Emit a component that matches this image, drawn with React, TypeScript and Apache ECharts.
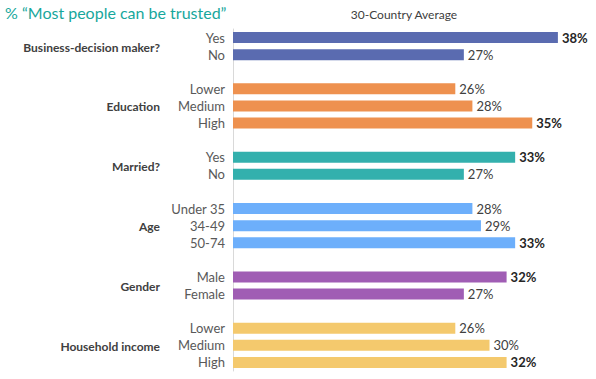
import React, { useEffect, useRef } from "react";
import * as echarts from "echarts";

const groups = ["Business-decision maker?", "Education", "Married?", "Age", "Gender", "Household income"];
const subLabels = [
  ["Yes", "No"],
  ["Lower", "Medium", "High"],
  ["Yes", "No"],
  ["Under 35", "34-49", "50-74"],
  ["Male", "Female"],
  ["Lower", "Medium", "High"],
];
const values = [
  [38, 27],
  [26, 28, 35],
  [33, 27],
  [28, 29, 33],
  [32, 27],
  [26, 30, 32],
];
const groupColors = ["#5A6BB0", "#EE914F", "#33B0AD", "#6DAFFB", "#A05DB4", "#F4C96D"];

const FONT = "Lato";

export default function App() {
  const ref = useRef<HTMLDivElement>(null);
  useEffect(() => {
    if (!ref.current) return;
    const chart = echarts.init(ref.current, undefined, { renderer: "svg" });
    const keys: string[] = [];
    const labelMap: Record<string, string> = {};
    const data: any[] = [];
    groups.forEach((g, gi) => {
      const max = Math.max(...values[gi]);
      subLabels[gi].forEach((s, si) => {
        const k = `${gi}-${si}`;
        keys.push(k);
        labelMap[k] = s;
        const v = values[gi][si];
        data.push({
          value: v,
          itemStyle: { color: groupColors[gi] },
          label: { fontWeight: v === max ? "bold" : "normal", color: v === max ? "#262626" : "#404040" },
        });
      });
      if (gi < groups.length - 1) {
        const k = `gap-${gi}`;
        keys.push(k);
        labelMap[k] = "";
        data.push("-");
      }
    });
    chart.setOption({
      animation: false,
      grid: { left: 233, right: 21, top: 29, bottom: 8, containLabel: false },
      xAxis: { type: "value", min: 0, max: 40, show: false, splitLine: { show: false } },
      yAxis: {
        type: "category",
        inverse: true,
        data: keys,
        axisTick: { show: false },
        axisLine: { lineStyle: { color: "#D9D9D9", width: 1 } },
        axisLabel: {
          interval: 0,
          margin: 8,
          color: "#595959",
          fontFamily: FONT,
          fontSize: 13,
          formatter: (v: string) => labelMap[v] ?? "",
        },
      },
      series: [
        {
          type: "bar",
          data,
          barWidth: 11,
          label: {
            show: true,
            position: "right",
            distance: 4,
            fontFamily: FONT,
            fontSize: 13,
            formatter: (p: any) => `${p.value}%`,
          },
        },
      ],
    });
    const graphics: any[] = [
      {
        type: "text",
        left: 5,
        top: 4,
        style: { text: "% \u201CMost people can be trusted\u201D", fill: "#17A79C", font: `16px ${FONT}` },
      },
    ];
    const gridRect = [233, 596 - 21];
    graphics.push({
      type: "text",
      x: (gridRect[0] + gridRect[1]) / 2,
      y: 14,
      style: {
        text: "30-Country Average",
        fill: "#404040",
        font: `12px ${FONT}`,
        align: "center",
        verticalAlign: "middle",
      },
    });
    groups.forEach((g, gi) => {
      const first = chart.convertToPixel({ yAxisIndex: 0 }, `${gi}-0`) as number;
      const last = chart.convertToPixel({ yAxisIndex: 0 }, `${gi}-${subLabels[gi].length - 1}`) as number;
      graphics.push({
        type: "text",
        x: 160,
        y: (first + last) / 2 + 1,
        style: {
          text: g,
          fill: "#404040",
          font: `bold 12px ${FONT}`,
          align: "right",
          verticalAlign: "middle",
        },
      });
    });
    chart.setOption({ graphic: graphics });
    return () => chart.dispose();
  }, []);
  return <div ref={ref} style={{ width: 596, height: 379, position: "absolute", left: 0, top: 0 }} />;
}
